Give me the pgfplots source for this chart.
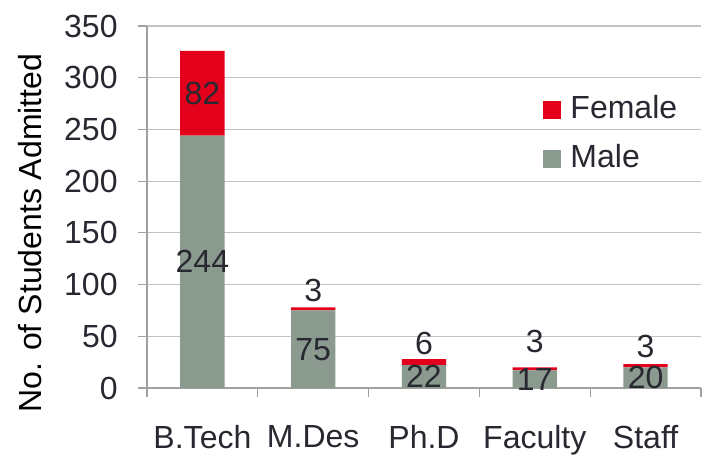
\documentclass[border=0pt]{standalone}
\usepackage{pgfplots}
\pgfplotsset{compat=1.18}
\usepackage{fontspec}
\setmainfont{Liberation Sans}
\definecolor{male}{RGB}{138,154,143}
\definecolor{female}{RGB}{226,0,26}
\definecolor{txt}{RGB}{40,40,48}
\definecolor{gridc}{RGB}{195,195,195}
\definecolor{axc}{RGB}{160,160,160}
\begin{document}
\fontsize{16pt}{19pt}\selectfont
\begin{tikzpicture}
\begin{axis}[
  at={(0,0)}, anchor=south west,
  scale only axis, width=277pt, height=181pt,
  ybar stacked, bar width=0.4,
  xmin=-0.5, xmax=4.5, ymin=0, ymax=350,
  ytick={0,50,...,350},
  xtick={0,1,2,3,4},
  xticklabels={B.Tech,M.Des,Ph.D,Faculty,Staff},
  minor xtick={-0.5,0.5,1.5,2.5,3.5,4.5},
  major x tick style={draw=none},
  minor tick length=4.5pt, major tick length=4.5pt,
  tick align=outside,
  tick style={axc, line width=0.6pt},
  ymajorgrids, grid style={gridc, line width=0.6pt},
  axis x line*=bottom, axis y line*=left,
  axis line style={-, axc, line width=0.6pt},
  every tick label/.append style={font=\fontsize{16pt}{19pt}\selectfont, text=txt},
  /pgf/number format/assume math mode=true,
  yticklabel style={anchor=east, inner sep=0pt, xshift=-10pt},
  xticklabel style={anchor=north, inner sep=0pt, yshift=-14pt},
  ylabel={No. of Students Admitted},
  ylabel style={at={(axis description cs:-0.211,0.428)}, anchor=center, font=\fontsize{16pt}{19pt}\selectfont, text=black},
  legend style={draw=none, fill=none, at={(axis description cs:0.715,0.82)}, anchor=north west,
    font=\fontsize{16pt}{19pt}\selectfont, text=txt, row sep=6.5pt, inner sep=0pt,
    nodes={inner xsep=4.5pt}},
  legend cell align=left,
  reverse legend,
  legend image code/.code={\fill[#1, draw=none] (0pt,-4.5pt) rectangle (9pt,4.5pt);},
]
\addplot[fill=male, draw=none] coordinates {(0,244) (1,75) (2,22) (3,17) (4,20)};
\addplot[fill=female, draw=none] coordinates {(0,82) (1,3) (2,6) (3,3) (4,3)};
\legend{Male,Female}
\coordinate (m0) at (axis cs:0,122);
\coordinate (f0) at (axis cs:0,285);
\coordinate (m1) at (axis cs:1,37.5);
\coordinate (f1) at (axis cs:1,94.5);
\coordinate (m2) at (axis cs:2,11);
\coordinate (f2) at (axis cs:2,43.5);
\coordinate (m3) at (axis cs:3,8.5);
\coordinate (f3) at (axis cs:3,45);
\coordinate (m4) at (axis cs:4,10);
\coordinate (f4) at (axis cs:4,40.5);
\end{axis}
\begin{scope}[every node/.style={text=txt, inner sep=0pt, font=\fontsize{16pt}{19pt}\selectfont}]
\node at (m0) {244};
\node at (f0) {82};
\node at (m1) {75};
\node at (f1) {3};
\node at (m2) {22};
\node at (f2) {6};
\node at (m3) {17};
\node at (f3) {3};
\node at (m4) {20};
\node at (f4) {3};
\end{scope}
\pgfresetboundingbox
\path[use as bounding box] (-73.5pt,-34pt) rectangle (280.5pt,194pt);
\end{tikzpicture}
\end{document}
